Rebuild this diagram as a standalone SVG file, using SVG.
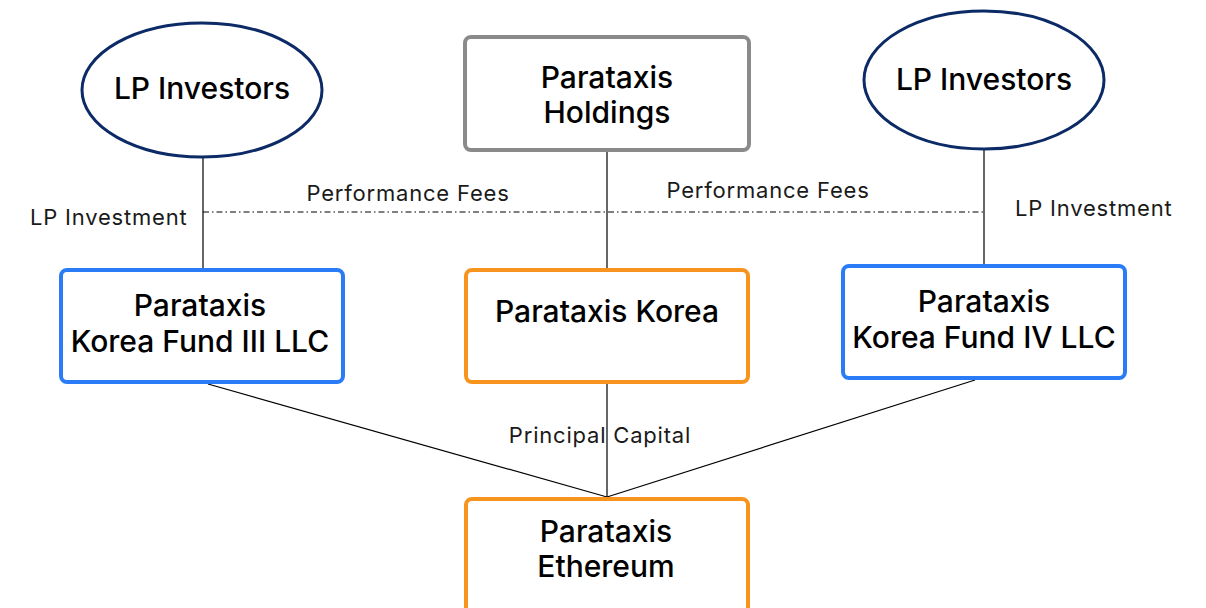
<svg xmlns="http://www.w3.org/2000/svg" width="1206" height="608" viewBox="0 0 1206 608">
<style>
.title{font-family:Inter,"Noto Sans",sans-serif;font-size:30px;font-weight:500;fill:#000;text-anchor:middle}
.lbl{font-family:Inter,"Noto Sans",sans-serif;font-size:22px;letter-spacing:0.8px;fill:#1a1a1a}
.ell{fill:#fff;stroke:#0b2a66;stroke-width:3}
.gray{fill:#fff;stroke:#8a8a8a;stroke-width:4}
.blue{fill:#fff;stroke:#2a7cf6;stroke-width:4}
.orange{fill:#fff;stroke:#f7941d;stroke-width:4}
.ln{stroke:#000;stroke-width:1.2;fill:none}
.dd{stroke:#000;stroke-width:1;fill:none;stroke-dasharray:6 3 1.5 3}
</style>
<rect width="1206" height="608" fill="#fff"/>
<g id="connectors">
<line class="ln" x1="203" y1="157" x2="203" y2="269"/>
<line class="ln" x1="607" y1="151" x2="607" y2="269"/>
<line class="ln" x1="984" y1="150" x2="984" y2="265"/>
<line class="ln" x1="607" y1="383" x2="607" y2="498"/>
<line class="ln" x1="208" y1="384" x2="607" y2="497"/>
<line class="ln" x1="975" y1="380" x2="607" y2="497"/>
<line class="dd" x1="203" y1="212" x2="985" y2="212"/>
<text class="lbl" x="30" y="225">LP Investment</text>
<text class="lbl" x="408" y="201" text-anchor="middle">Performance Fees</text>
<text class="lbl" x="768" y="198" text-anchor="middle">Performance Fees</text>
<text class="lbl" x="1015" y="216">LP Investment</text>
<text class="lbl" x="600" y="443" text-anchor="middle">Principal Capital</text>
</g>
<g id="lp-left">
<ellipse class="ell" cx="202" cy="90" rx="120" ry="67"/>
<text class="title" x="202" y="99">LP Investors</text>
</g>
<g id="lp-right">
<ellipse class="ell" cx="984" cy="80" rx="120" ry="69"/>
<text class="title" x="984" y="90">LP Investors</text>
</g>
<g id="holdings">
<rect class="gray" x="465" y="37" width="284" height="113" rx="6"/>
<text class="title" x="607" y="88">Parataxis</text>
<text class="title" x="607" y="123">Holdings</text>
</g>
<g id="fund3">
<rect class="blue" x="61" y="270" width="282" height="112" rx="6"/>
<text class="title" x="200" y="316">Parataxis</text>
<text class="title" x="200" y="352">Korea Fund III LLC</text>
</g>
<g id="korea">
<rect class="orange" x="466" y="270" width="282" height="112" rx="6"/>
<text class="title" x="607" y="322">Parataxis Korea</text>
</g>
<g id="fund4">
<rect class="blue" x="843" y="266" width="282" height="112" rx="6"/>
<text class="title" x="984" y="312">Parataxis</text>
<text class="title" x="984" y="348">Korea Fund IV LLC</text>
</g>
<g id="ethereum">
<rect class="orange" x="466" y="499" width="282" height="120" rx="6"/>
<text class="title" x="606" y="542">Parataxis</text>
<text class="title" x="606" y="577">Ethereum</text>
</g>
</svg>
